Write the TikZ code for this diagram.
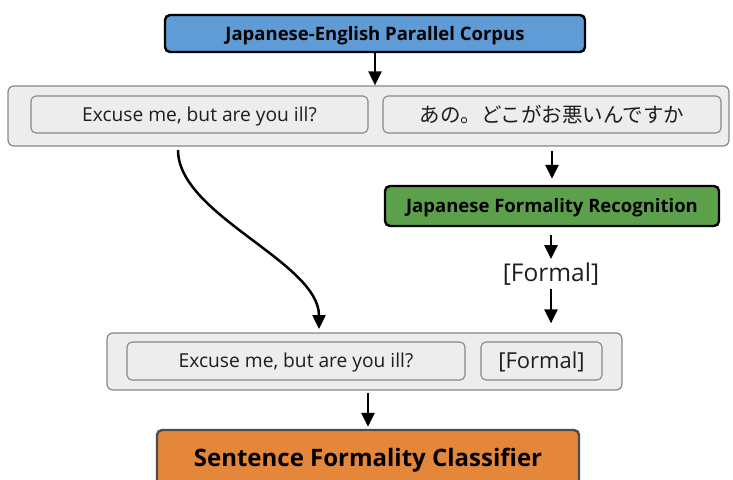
\documentclass[tikz,border=0pt]{standalone}
\usepackage{fontspec}
\setmainfont{Open Sans}
\newfontfamily\jpfont{Noto Sans CJK JP}
\usetikzlibrary{arrows.meta}
\definecolor{cblue}{RGB}{95,155,213}
\definecolor{cgreen}{RGB}{92,160,76}
\definecolor{corange}{RGB}{229,135,58}
\definecolor{cpanel}{RGB}{237,237,237}
\definecolor{cborder}{RGB}{135,135,135}
\definecolor{ctext}{RGB}{30,30,30}
\tikzset{
  panel/.style={draw=cborder, fill=cpanel, line width=1.2pt, rounded corners=6pt, inner sep=0pt},
  inbox/.style={draw=cborder, fill=cpanel, line width=1.1pt, rounded corners=5pt, inner sep=0pt, text height=13.7pt, text depth=0pt, text=ctext, font=\fontsize{19.2}{22}\selectfont},
  stage/.style={draw=black, line width=2.4pt, rounded corners=5pt, inner sep=0pt, text height=13.2pt, text depth=0pt, font=\bfseries\fontsize{18.5}{22}\selectfont, text=black},
  flow/.style={line width=2.5pt, -{Triangle[width=13pt,length=14pt]}},
}
\begin{document}
\begin{tikzpicture}[x=1pt,y=-1pt]
\useasboundingbox (0,0) rectangle (733,479);
\clip (0,0) rectangle (733,479);
% top
\node[stage, fill=cblue, minimum width=420pt, minimum height=37pt] (corpus) at (375,33.5) {Japanese-English Parallel Corpus};
\node[panel, minimum width=721pt, minimum height=60pt] (topc) at (368.5,116) {};
\node[inbox, minimum width=337pt, minimum height=37pt] (en1) at (199.5,114.5) {Excuse me, but are you ill?};
\node[inbox, minimum width=338pt, minimum height=37pt, text height=17pt, text depth=1.5pt] (ja1) at (552,114.5) {\jpfont\fontsize{20.5}{24}\selectfont あの。どこがお悪いんですか};
% green
\node[stage, fill=cgreen, minimum width=334pt, minimum height=40pt] (rec) at (552,206) {Japanese Formality Recognition};
\node[inner sep=0pt, text height=17.5pt, text depth=0pt, text=ctext, font=\fontsize{24.5}{28}\selectfont] (lab) at (551,273) {[Formal]};
% bottom
\node[panel, minimum width=515pt, minimum height=57pt] (botc) at (364.5,361.5) {};
\node[inbox, minimum width=338pt, minimum height=38pt] (en2) at (296,361) {Excuse me, but are you ill?};
\node[inbox, minimum width=121pt, minimum height=38pt, text height=15.7pt, font=\fontsize{22}{26}\selectfont] (fm2) at (541.5,361) {[Formal]};
\node[stage, draw=black!70, fill=corange, minimum width=422pt, minimum height=60pt] (clf) at (368,460) {};
\node[inner sep=0pt, text height=17.1pt, text depth=0pt, font=\bfseries\fontsize{24}{28}\selectfont] (clft) at (368,457.5) {Sentence Formality Classifier};
% arrows
\draw[flow] (corpus.south) -- (corpus.south |- topc.north);
\draw[flow, shorten <=4pt, shorten >=6pt] (ja1.south |- topc.south) -- (rec.north);
\draw[flow, shorten <=8pt, shorten >=5pt] (rec.south -| lab.north) -- (lab.north);
\draw[flow, shorten <=7pt, shorten >=9pt] (lab.south) -- (lab.south |- botc.north);
\coordinate (cstart) at (178,150);
\coordinate (cend) at (319,329);
\draw[flow] (cstart) .. controls (178,215) and (319,262) .. (cend);
\draw[flow, shorten <=2pt, shorten >=2pt] (clf.north |- botc.south) -- (clf.north);
\end{tikzpicture}
\end{document}
